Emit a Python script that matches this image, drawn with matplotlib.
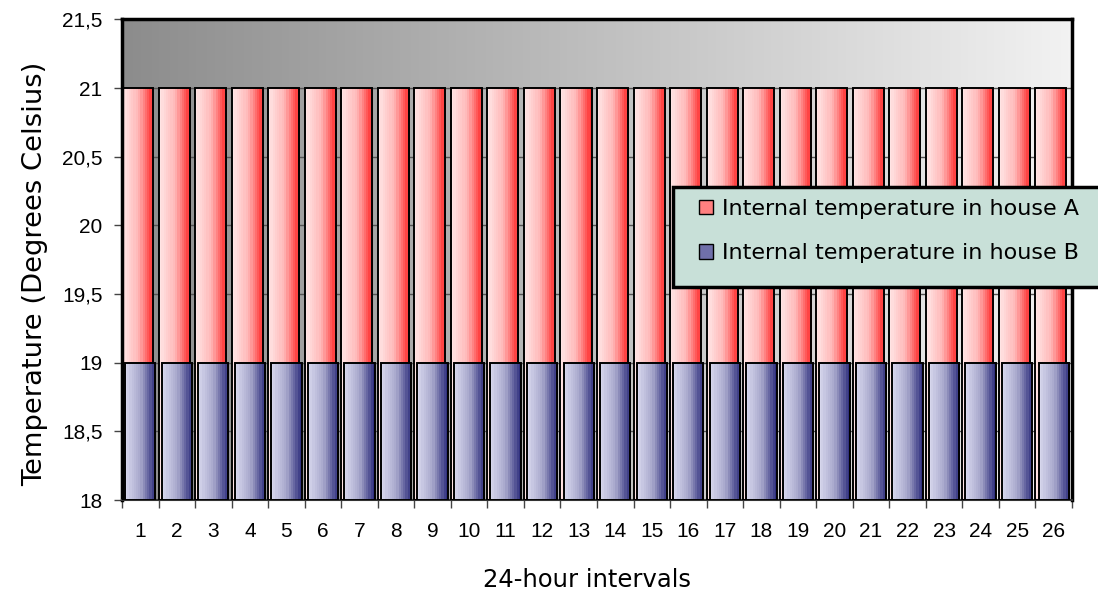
import matplotlib.pyplot as plt
import numpy as np
from matplotlib.colors import LinearSegmentedColormap
from matplotlib.patches import Patch, Rectangle

# data
days = list(range(1, 27))
house_a = [21] * 26
house_b = [19] * 26
yticks = [18, 18.5, 19, 19.5, 20, 20.5, 21, 21.5]
ytick_labels = ["18", "18,5", "19", "19,5", "20", "20,5", "21", "21,5"]
labels = ["Internal temperature in house A", "Internal temperature in house B"]

base = 18
W, H = 1098, 601

fig = plt.figure(figsize=(10.98, 6.01), dpi=100)
ax = fig.add_axes([0.1111, 0.168, 0.8652, 0.7996])
ax.set_xlim(0.5, 26.5)
ax.set_ylim(18, 21.5)

# grey gradient background
bg = LinearSegmentedColormap.from_list("bg", ["#8c8c8c", "#f2f2f2"])
ax.imshow(np.linspace(0, 1, 256).reshape(1, -1), cmap=bg, aspect="auto",
          extent=[0.5, 26.5, 18, 21.5], zorder=0)

for y in yticks[1:-1]:
    ax.axhline(y, color="#555555", lw=1.0, zorder=1)

red = LinearSegmentedColormap.from_list("r", ["#ffe4e4", "#ffb8b8", "#ff3030"])
blue = LinearSegmentedColormap.from_list("b", ["#d6d6ec", "#a8a8cc", "#30307e"])
grad = np.linspace(0, 1, 14).reshape(1, -1)

def gradient_bars(x, h, width, cmap, z):
    bars = ax.bar(x, np.array(h) - base, bottom=base, width=width,
                  facecolor="none", edgecolor="black", lw=1.4, zorder=z + 1)
    for b in bars:
        x0, y0 = b.get_x(), b.get_y()
        ax.imshow(grad, cmap=cmap, aspect="auto", interpolation="nearest",
                  extent=[x0, x0 + b.get_width(), y0, y0 + b.get_height()],
                  zorder=z)
    return bars

xa = np.array(days) - 0.075
xb = np.array(days) + 0.0
gradient_bars(xa, house_a, 0.85, red, 2)
gradient_bars(xb, house_b, 0.83, blue, 4)
ax.set_xlim(0.5, 26.5)
ax.set_ylim(18, 21.5)

ax.set_yticks(yticks)
ax.set_yticklabels(ytick_labels, fontsize=15, family="Liberation Sans")
ax.set_xticks(days)
ax.set_xticklabels([str(d) for d in days], fontsize=15, family="Liberation Sans")
ax.set_xticks(np.arange(0.5, 27, 1), minor=True)
ax.tick_params(axis="x", which="major", length=0, pad=16)
ax.tick_params(axis="x", which="minor", length=6, width=1, color="#444444")
ax.tick_params(axis="y", length=6, width=1, color="#444444", pad=8)

for s in ["left", "top", "right"]:
    ax.spines[s].set_linewidth(2.5)
    ax.spines[s].set_color("black")
ax.spines["bottom"].set_linewidth(1.5)
ax.spines["bottom"].set_color("#333333")

ax.set_xlabel("24-hour intervals", fontsize=17.5, family="DejaVu Sans")
ax.xaxis.set_label_coords(0.489, -0.1415)
ax.set_ylabel("Temperature (Degrees Celsius)", fontsize=19.7, family="DejaVu Sans")
ax.yaxis.set_label_coords(-0.078, 0.47)

# legend box (runs off the right edge like the original)
fig.patches.append(Rectangle((673 / W, 1 - 287 / H), (W + 20 - 673) / W, 100 / H,
                             transform=fig.transFigure, facecolor="#c8e0d8",
                             edgecolor="black", lw=2.5, zorder=4))

handles = [Patch(facecolor="#ff8080", edgecolor="black"),
           Patch(facecolor="#7070aa", edgecolor="black")]
leg = fig.legend(handles, labels, loc="center left", bbox_to_anchor=(699 / W, 1 - 231 / H),
                 prop={"family": "DejaVu Sans", "size": 16}, frameon=False,
                 handlelength=0.63, handleheight=0.63, handletextpad=0.4,
                 labelspacing=1.1, borderpad=0, borderaxespad=0)
leg.set_zorder(10)

fig.savefig("out.png", dpi=100)
